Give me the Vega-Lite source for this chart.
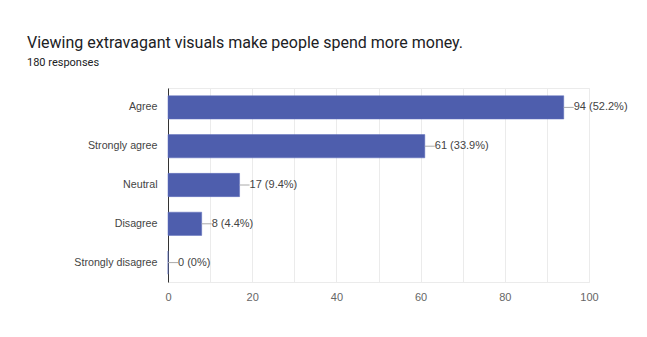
{
  "$schema": "https://vega.github.io/schema/vega-lite/v6.json",
  "width": 421,
  "height": 194,
  "autosize": "none",
  "padding": {"left": 168, "top": 88, "right": 58, "bottom": 55},
  "background": "white",
  "title": {
    "text": "Viewing extravagant visuals make people spend more money.",
    "subtitle": "180 responses",
    "anchor": "start",
    "frame": "group",
    "dx": -141,
    "offset": 20,
    "font": "Roboto",
    "fontSize": 16,
    "fontWeight": "normal",
    "color": "#202124",
    "subtitleFont": "Roboto",
    "subtitleFontSize": 11,
    "subtitleColor": "#202124",
    "subtitlePadding": 6
  },
  "config": {
    "view": {"stroke": "#ebebeb"},
    "font": "Liberation Sans"
  },
  "data": {
    "values": [
      {"answer": "Agree", "count": 94, "label": "94 (52.2%)"},
      {"answer": "Strongly agree", "count": 61, "label": "61 (33.9%)"},
      {"answer": "Neutral", "count": 17, "label": "17 (9.4%)"},
      {"answer": "Disagree", "count": 8, "label": "8 (4.4%)"},
      {"answer": "Strongly disagree", "count": 0, "label": "0 (0%)"}
    ]
  },
  "encoding": {
    "y": {
      "field": "answer",
      "type": "nominal",
      "sort": null,
      "scale": {"paddingInner": 0.4, "paddingOuter": 0.2},
      "axis": {
        "title": null,
        "domain": true,
        "domainColor": "#333333",
        "ticks": false,
        "labelPadding": 11,
        "labelFontSize": 10.7,
        "labelColor": "#444444",
        "labelFont": "Liberation Sans"
      }
    }
  },
  "layer": [
    {
      "mark": {"type": "bar", "color": "#4e5ead", "stroke": "#5f6fbd", "strokeWidth": 0.5},
      "encoding": {
        "x": {
          "field": "count",
          "type": "quantitative",
          "scale": {"domain": [0, 100], "nice": false},
          "axis": {
            "title": null,
            "domain": false,
            "ticks": false,
            "labelFlush": false,
            "values": [0, 10, 20, 30, 40, 50, 60, 70, 80, 90, 100],
            "labelExpr": "datum.value % 20 == 0 ? datum.label : ''",
            "gridColor": "#ebebeb",
            "labelPadding": 9,
            "labelFontSize": 11,
            "labelColor": "#666666",
            "labelFont": "Liberation Sans"
          }
        }
      }
    },
    {
      "mark": {"type": "rule", "color": "#aaaaaa", "x2Offset": 10},
      "encoding": {
        "x": {"field": "count", "type": "quantitative"},
        "x2": {"field": "count"}
      }
    },
    {
      "mark": {"type": "text", "align": "left", "dx": 10, "fontSize": 11, "color": "#444444", "font": "Liberation Sans"},
      "encoding": {
        "x": {"field": "count", "type": "quantitative"},
        "text": {"field": "label"}
      }
    }
  ]
}
